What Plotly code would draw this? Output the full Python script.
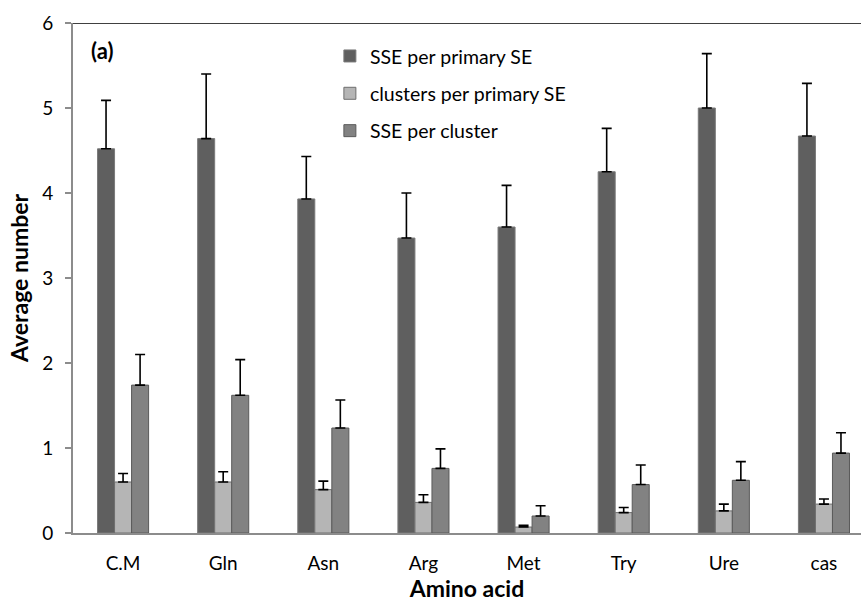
import plotly.graph_objects as go

categories = ["C.M", "Gln", "Asn", "Arg", "Met", "Try", "Ure", "cas"]

sse_per_primary = [4.52, 4.64, 3.93, 3.47, 3.60, 4.25, 5.00, 4.67]
sse_per_primary_err = [0.57, 0.76, 0.50, 0.53, 0.49, 0.51, 0.64, 0.62]

clusters_per_primary = [0.60, 0.60, 0.51, 0.36, 0.07, 0.24, 0.26, 0.34]
clusters_per_primary_err = [0.10, 0.12, 0.10, 0.09, 0.02, 0.06, 0.08, 0.06]

sse_per_cluster = [1.74, 1.62, 1.235, 0.76, 0.20, 0.57, 0.62, 0.94]
sse_per_cluster_err = [0.36, 0.42, 0.33, 0.23, 0.12, 0.23, 0.22, 0.24]

y_ticks = [0, 1, 2, 3, 4, 5, 6]

FONT = "Lato"

series = [
    ("SSE per primary SE", sse_per_primary, sse_per_primary_err, "#5f5f5f", "#7a7a7a"),
    ("clusters per primary SE", clusters_per_primary, clusters_per_primary_err, "#b5b5b5", "#6e6e6e"),
    ("SSE per cluster", sse_per_cluster, sse_per_cluster_err, "#828282", "#5a5a5a"),
]

fig = go.Figure()
for i, (name, vals, errs, col, lcol) in enumerate(series):
    fig.add_trace(go.Bar(
        x=categories, y=vals, name=name,
        legendgroup=f"g{i}",
        marker=dict(color=col, line=dict(color=lcol, width=1)),
        error_y=dict(type="data", symmetric=False, array=errs,
                     arrayminus=[0] * len(errs),
                     color="black", thickness=1.6, width=5),
    ))

fig.update_layout(
    width=861, height=607,
    margin=dict(l=73, r=0, t=23, b=74),
    paper_bgcolor="white", plot_bgcolor="white",
    barmode="group", bargap=0.49, bargroupgap=0,
    font=dict(family=FONT, size=19, color="black"),
    legend=dict(x=0.326, y=0.973, xanchor="left", yanchor="top",
                bgcolor="rgba(0,0,0,0)", font=dict(size=19.5, family=FONT),
                tracegroupgap=9, itemwidth=30),
    xaxis=dict(range=[-0.5, 7.37], showline=True, linecolor="#8c8c8c",
               linewidth=2, ticks="", showgrid=False,
               tickfont=dict(size=19, family=FONT), ticklabelstandoff=12,
               title=dict(text="Amino acid", font=dict(size=23, family=FONT, weight="bold"),
                          standoff=8)),
    yaxis=dict(range=[0, 6], tickvals=y_ticks, showline=True, linecolor="#8c8c8c",
               linewidth=2, ticks="outside", tickcolor="#8c8c8c", ticklen=6,
               tickwidth=1.5, showgrid=False, zeroline=False,
               tickfont=dict(size=19, family=FONT), ticklabelstandoff=8,
               title=dict(text="Average number", font=dict(size=23, family=FONT, weight="bold"),
                          standoff=7)),
    shapes=[dict(type="line", xref="paper", yref="y", x0=0, x1=1, y0=6, y1=6,
                 line=dict(color="black", width=1.5))],
    annotations=[dict(text="<b>(a)</b>", xref="paper", yref="y", x=0.02, y=5.68,
                      xanchor="left", yanchor="middle", showarrow=False,
                      font=dict(size=22, family=FONT))],
)

fig.write_html("out.html")
